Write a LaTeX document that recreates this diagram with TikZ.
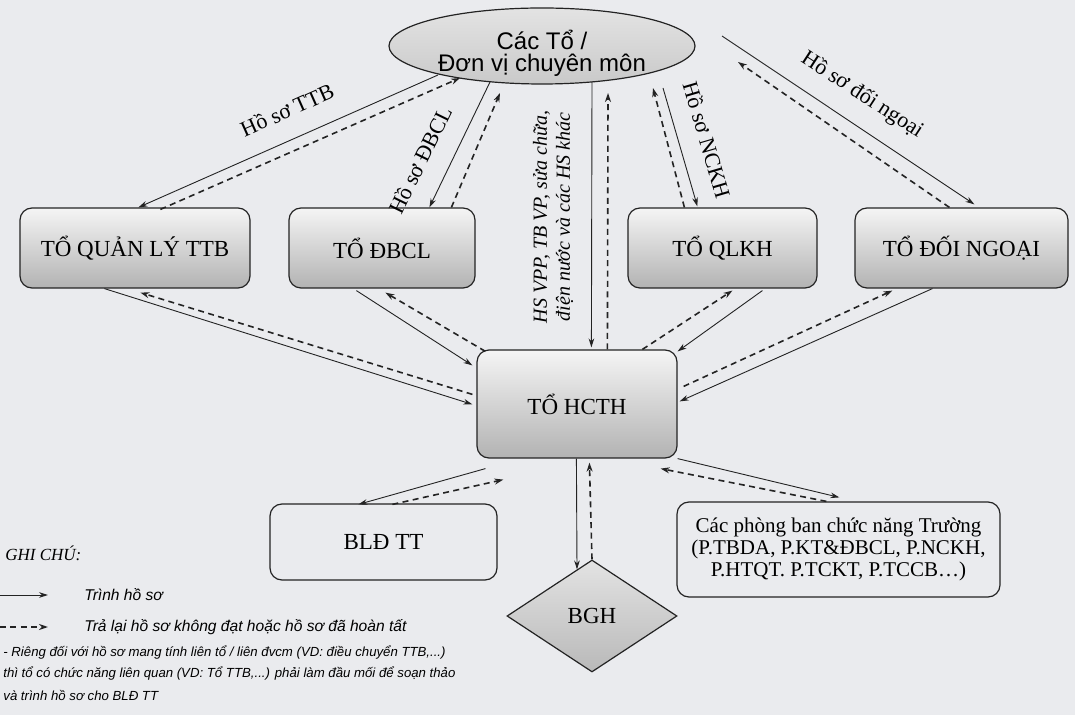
\documentclass[tikz,border=0pt]{standalone}
\usepackage{fontspec}
\setmainfont{Liberation Serif}
\newfontfamily\arialf{Liberation Sans}
\usetikzlibrary{shapes.geometric,arrows.meta,calc}
\definecolor{pagebg}{RGB}{234,235,238}
\definecolor{inkc}{RGB}{35,35,35}
\begin{document}
\begin{tikzpicture}[x=0.5pt,y=-0.5pt,
  box/.style={draw=inkc, line width=0.6pt, rounded corners=6pt, top color=gray!8, bottom color=gray!60, inner sep=0pt, font=\fontsize{11.5}{13}\selectfont},
  plainbox/.style={draw=inkc, line width=0.6pt, rounded corners=6pt, inner sep=0pt},
  ellnode/.style={ellipse, draw=inkc, line width=0.6pt, top color=gray!22, bottom color=gray!42, inner sep=0pt, minimum width=153pt, minimum height=38pt},
  elltext/.style={align=center, inner sep=0pt, font=\arialf\fontsize{12}{11}\selectfont},
  dia/.style={diamond, draw=inkc, line width=0.6pt, top color=gray!22, bottom color=gray!55, inner sep=0pt, minimum width=85pt, minimum height=56pt, aspect=1.52, font=\fontsize{11.5}{13}\selectfont},
  sarr/.style={-{Stealth[length=4.5pt,width=2.8pt]}, line width=0.45pt, inkc},
  darr/.style={-{Stealth[length=4.5pt,width=3pt]}, line width=0.8pt, dash pattern=on 3pt off 2.2pt, inkc},
  lbl/.style={font=\fontsize{11}{13}\selectfont, inner sep=0pt},
  vlbl/.style={font=\itshape\fontsize{10}{11.5}\selectfont, inner sep=0pt, align=center},
  legtxt/.style={font=\arialf\itshape\fontsize{7.8}{9}\selectfont, inner sep=0pt, anchor=west},
  notetxt/.style={font=\arialf\itshape\fontsize{6.6}{8}\selectfont, inner sep=0pt, anchor=west}
]
\fill[pagebg] (0,0) rectangle (1075,715);
\useasboundingbox (0,0) rectangle (1075,715);

% nodes
\node[ellnode] (cac) at (542,46) {};
\node[elltext] (cactext) at (542,53) {Các Tổ /\\Đơn vị chuyên môn};
\node[box, minimum width=115pt, minimum height=40pt] (ttb) at (135,248) {TỔ QUẢN LÝ TTB};
\node[box, minimum width=93pt, minimum height=40pt] (dbcl) at (382,248) {TỔ ĐBCL};
\node[box, minimum width=94.5pt, minimum height=40pt] (qlkh) at (722.5,248) {TỔ QLKH};
\node[box, minimum width=106.5pt, minimum height=40pt] (dn) at (961.5,248) {TỔ ĐỐI NGOẠI};
\node[box, minimum width=100pt, minimum height=54pt] (hcth) at (577,404) {TỔ HCTH};
\node[plainbox, minimum width=113.5pt, minimum height=38pt, font=\fontsize{11.5}{13}\selectfont] (bld) at (383.5,542) {BLĐ TT};
\node[plainbox, minimum width=161.5pt, minimum height=47.5pt, align=center, font=\fontsize{10.5}{11}\selectfont] (pb) at (838.5,549.5) {Các phòng ban chức năng Trường\\(P.TBDA, P.KT\&ĐBCL, P.NCKH,\\P.HTQT. P.TCKT, P.TCCB…)};
\node[dia] (bgh) at (592,616) {BGH};

% upper connectors
\draw[sarr] ($(cac.center)+(-104,29)$) -- ($(ttb.north west)+(119,0)$);
\draw[darr] ($(ttb.north west)+(141,2)$) -- ($(cac.center)+(-82,32)$);
\draw[sarr] ($(cac.center)+(-52,36)$) -- ($(dbcl.north west)+(141,0)$);
\draw[darr] ($(dbcl.north west)+(163,0)$) -- ($(cac.center)+(-42,47)$);
\draw[sarr] ($(cac.center)+(50,36)$) -- ($(hcth.north west)+(115,-2)$);
\draw[darr] ($(hcth.north west)+(131,0)$) -- ($(cac.center)+(66,47)$);
\draw[darr] ($(qlkh.north west)+(57,0)$) -- ($(cac.center)+(111,42)$);
\draw[sarr] ($(cac.center)+(121,42)$) -- ($(qlkh.north west)+(70,-1)$);
\draw[sarr] ($(cac.center)+(180,-10)$) -- ($(dn.north west)+(120,-3)$);
\draw[darr] ($(dn.north west)+(95,0)$) -- ($(cac.center)+(196,16)$);

% lower connectors
\draw[sarr] ($(ttb.south west)+(85,0)$) -- ($(hcth.north west)+(-4,55)$);
\draw[darr] ($(hcth.north west)+(-4,45)$) -- ($(ttb.south west)+(121,4)$);
\draw[sarr] ($(dbcl.south west)+(68,2)$) -- ($(hcth.north west)+(-4,16)$);
\draw[darr] ($(hcth.north west)+(9,2)$) -- ($(dbcl.south west)+(97,4)$);
\draw[darr] ($(hcth.north west)+(166,0)$) -- ($(qlkh.south west)+(105,2)$);
\draw[sarr] ($(qlkh.south west)+(135,2)$) -- ($(hcth.north east)+(0,2)$);
\draw[sarr] ($(dn.south west)+(78,0)$) -- ($(hcth.north east)+(2,52)$);
\draw[darr] ($(hcth.north east)+(6,37)$) -- ($(dn.south west)+(38,2)$);
\draw[sarr] (hcth.south east) -- ($(pb.north west)+(163,-4)$);
\draw[darr] ($(pb.north west)+(150,0)$) -- ($(hcth.south east)+(-17,10)$);
\draw[sarr] ($(hcth.south west)+(9,10)$) -- ($(bld.north west)+(89,1)$);
\draw[darr] ($(bld.north west)+(123,1)$) -- ($(hcth.south west)+(27,21)$);
\draw[sarr] ($(hcth.south west)+(100,0)$) -- ($(bgh.north)+(-15,10)$);
\draw[darr] (bgh.north) -- ($(hcth.south west)+(113,4)$);

% labels
\node[lbl, rotate=24] (lttb) at (287,110) {Hồ sơ TTB};
\node[lbl, rotate=64] (ldbcl) at (420,160) {Hồ sơ ĐBCL};
\node[lbl, rotate=-73.6] (lnckh) at (707,140) {Hồ sơ NCKH};
\node[lbl, rotate=-33] (ldn) at (862,95) {Hồ sơ đối ngoại};
\node[vlbl, rotate=90] (lhs) at (553,217) {HS VPP, TB VP, sửa chữa,\\điện nước và các HS khác};

% legend
\node[font=\itshape\fontsize{8.5}{10}\selectfont, inner sep=0pt, anchor=west] (ghichu) at (5,553) {GHI CHÚ:};
\coordinate (l1a) at (0,595);
\coordinate (l1b) at (48,595);
\draw[sarr] (l1a) -- (l1b);
\coordinate (l2a) at (0,627);
\coordinate (l2b) at (48,627);
\draw[darr] (l2a) -- (l2b);
\node[legtxt] (t1) at (84,595) {Trình hồ sơ};
\node[legtxt] (t2) at (84,627) {Trả lại hồ sơ không đạt hoặc hồ sơ đã hoàn tất};
\node[notetxt] (n1) at (3,653) {- Riêng đối với hồ sơ mang tính liên tổ / liên đvcm (VD: điều chuyển TTB,...)};
\node[notetxt] (n2) at (3,674) {thì tổ có chức năng liên quan (VD: Tổ TTB,...) phải làm đầu mối để soạn thảo};
\node[notetxt] (n3) at (3,695) {và trình hồ sơ cho BLĐ TT};
\end{tikzpicture}
\end{document}
